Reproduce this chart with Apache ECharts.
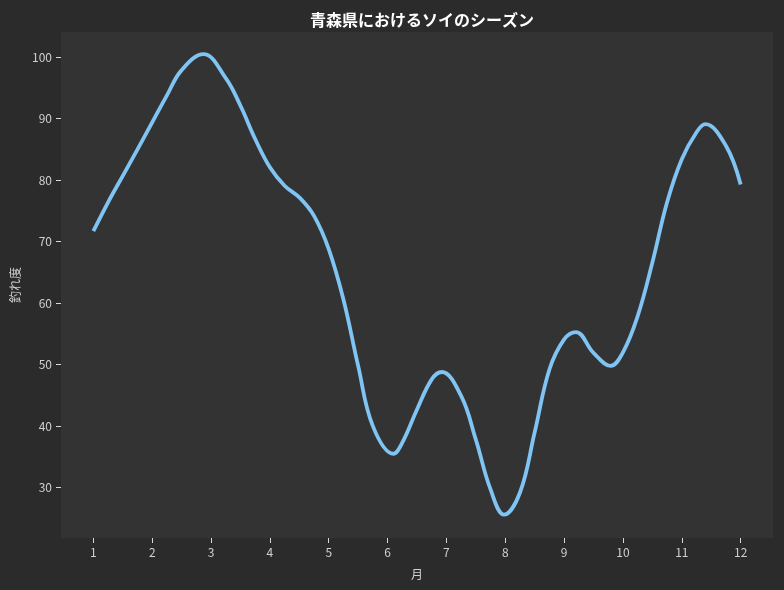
<!DOCTYPE html>
<html>
<head>
<meta charset="utf-8">
<script src="https://cdn.jsdelivr.net/npm/echarts@6/dist/echarts.min.js"></script>
<style>
html,body{margin:0;padding:0;background:#2b2b2b;}
#c{width:784px;height:590px;}
</style>
</head>
<body>
<div id="c"></div>
<script>
const months = [1, 1.25, 1.5, 1.75, 2, 2.25, 2.5, 2.87, 3.25, 3.5, 3.75, 4, 4.25, 4.5, 4.75, 5, 5.25, 5.5, 5.75, 6.1, 6.25, 6.5, 6.75, 6.92, 7.25, 7.5, 7.75, 7.98, 8.25, 8.5, 8.75, 9, 9.2, 9.5, 9.79, 10, 10.25, 10.5, 10.75, 11, 11.25, 11.4, 11.75, 12];
const catchRate = [71.7, 76.4, 80.7, 85.0, 89.4, 93.8, 97.9, 100.5, 96.6, 92.1, 86.7, 82.1, 79.1, 77.2, 74.2, 68.8, 60.6, 49.8, 40.0, 35.5, 37.3, 42.7, 47.6, 48.8, 44.9, 37.8, 29.7, 25.6, 29.2, 39.0, 49.2, 54.1, 55.3, 51.9, 49.8, 52.0, 57.9, 66.6, 76.4, 83.4, 87.8, 89.1, 85.6, 79.3];
const xTicks = [1, 2, 3, 4, 5, 6, 7, 8, 9, 10, 11, 12];
const yTicks = [30, 40, 50, 60, 70, 80, 90, 100];

const font = '"Noto Sans CJK JP", "Noto Sans", sans-serif';
const chart = echarts.init(document.getElementById('c'), null, {renderer: 'canvas'});
chart.setOption({
  backgroundColor: '#2b2b2b',
  animation: false,
  title: {
    text: '青森県におけるソイのシーズン',
    left: 417, top: 7, textAlign: 'center',
    textStyle: {color: '#ffffff', fontSize: 16, fontWeight: 'bold', fontFamily: font}
  },
  grid: {left: 61, right: 11, top: 32, bottom: 52, show: true, backgroundColor: '#333333', borderWidth: 0},
  xAxis: {
    type: 'value', min: 0.45, max: 12.55,
    name: '月', nameLocation: 'middle', nameGap: 30,
    nameTextStyle: {color: '#d0d0d0', fontSize: 12, fontFamily: font},
    axisLine: {show: false},
    splitLine: {show: false},
    axisTick: {show: true, customValues: xTicks, length: 5, lineStyle: {color: '#d8d8d8', width: 1}},
    axisLabel: {customValues: xTicks, color: '#d0d0d0', fontSize: 12, fontFamily: font, margin: 8}
  },
  yAxis: {
    type: 'value', min: 21.8, max: 104.1,
    name: '釣れ度', nameLocation: 'middle', nameGap: 40, nameRotate: 90,
    nameTextStyle: {color: '#d0d0d0', fontSize: 12, fontFamily: font},
    axisLine: {show: false},
    splitLine: {show: false},
    axisTick: {show: true, customValues: yTicks, length: 5, lineStyle: {color: '#d8d8d8', width: 1}},
    axisLabel: {customValues: yTicks, color: '#d0d0d0', fontSize: 12, fontFamily: font, margin: 9}
  },
  series: [{
    type: 'line',
    data: months.map((m, i) => [m, catchRate[i]]),
    smooth: 0.4,
    showSymbol: false,
    lineStyle: {color: '#7fc4f2', width: 3.8}
  }]
});
</script>
</body>
</html>
